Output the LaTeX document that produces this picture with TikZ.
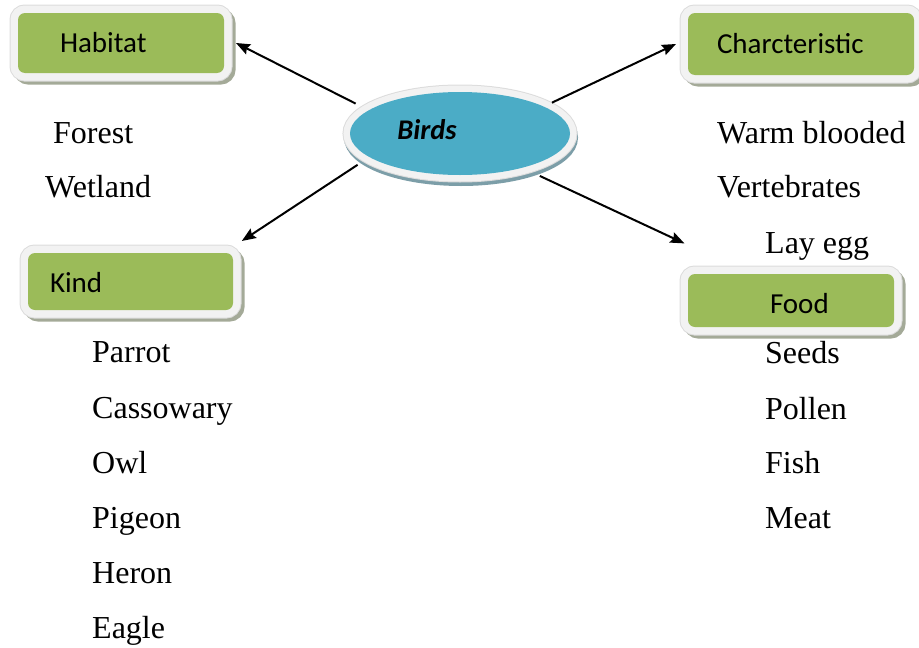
\documentclass[tikz,border=0pt]{standalone}
\usepackage{fontspec}
\setmainfont{Liberation Serif}
\newfontfamily\boxfont{Carlito}
\usepackage{tikz}
\usetikzlibrary{positioning, arrows.meta, shadows, shapes.geometric}
\definecolor{boxgreen}{HTML}{9BBB59}
\definecolor{birdblue}{HTML}{4BACC6}
\definecolor{framegray}{HTML}{F2F2F2}
\definecolor{edgegray}{HTML}{DCDCDC}
\definecolor{greenshadow}{HTML}{A4AA98}
\definecolor{blueshadow}{HTML}{7C9EA8}

\begin{document}
\begin{tikzpicture}[x=1pt, y=-1pt]
	% Define styles
	\tikzset{
		box/.style={rectangle, rounded corners=7pt, fill=boxgreen, inner sep=0pt, outer sep=12pt,
			drop shadow={shadow xshift=3.5pt, shadow yshift=-3.5pt, opacity=1, fill=greenshadow, draw=greenshadow, line width=16pt},
			preaction={draw=edgegray, line width=17pt},
			preaction={draw=framegray, line width=15pt}},
		bird/.style={ellipse, fill=birdblue, minimum width=220pt, minimum height=83pt, inner sep=0pt, outer sep=14pt,
			drop shadow={shadow xshift=1pt, shadow yshift=-4pt, opacity=1, fill=blueshadow, draw=blueshadow, line width=14pt},
			preaction={draw=edgegray, line width=15pt},
			preaction={draw=framegray, line width=13pt}},
		boxtext/.style={inner sep=0pt, outer sep=0pt, font=\boxfont\fontsize{29}{34}\selectfont},
		birdtext/.style={inner sep=0pt, font=\boxfont\bfseries\itshape\fontsize{28.5}{32}\selectfont},
		item/.style={anchor=base west, inner sep=0pt, font=\fontsize{32}{36}\selectfont},
		line/.style={draw, line width=2pt, -{Stealth[length=14pt, width=11pt, inset=2pt]}}
	}
	\useasboundingbox (0,0) rectangle (919,648);
	% Nodes
	\node[bird] (birds) at (460,133.5) {};
	\node[birdtext] (birdst) at (427,130) {Birds};
	
	\node[box, minimum width=206pt, minimum height=60pt] (hab) at (121,43) {};
	\node[box, minimum width=226pt, minimum height=62pt] (char) at (801,44) {};
	\node[box, minimum width=205pt, minimum height=57pt] (kind) at (130.5,281.5) {};
	\node[box, minimum width=206pt, minimum height=53pt] (food) at (791,300.5) {};
	
	\node[boxtext, right=54pt of hab.west] (habt) {Habitat};
	\node[boxtext, right=41pt of char.west] (chart) {Charcteristic};
	\node[boxtext, right=34pt of kind.west, yshift=-1pt] (kindt) {Kind};
	\node[boxtext, right=94pt of food.west, yshift=-3.5pt] (foodt) {Food};
	
	\node[item] (forest) at (53,143) {Forest};
	\node[item] (wetland) at (45,197) {Wetland};
	
	\node[item] (warm) at (717,143) {Warm blooded};
	\node[item] (vert) at (717,197) {Vertebrates};
	\node[item] (layegg) at (765,253) {Lay egg};
	
	\node[item] (parrot) at (92,362) {Parrot};
	\node[item] (cass) at (92,418) {Cassowary};
	\node[item] (owl) at (92,473) {Owl};
	\node[item] (pigeon) at (92,528) {Pigeon};
	\node[item] (heron) at (92,583) {Heron};
	\node[item] (eagle) at (92,638) {Eagle};
	
	\node[item] (seeds) at (765,363) {Seeds};
	\node[item] (pollen) at (765,419) {Pollen};
	\node[item] (fish) at (765,473) {Fish};
	\node[item] (meat) at (765,528) {Meat};
	
	% Arrows
	\draw[line] (birds.164) -- (hab.east);
	\draw[line, shorten <=-7pt] (birds.19) -- (char.west);
	\draw[line] (birds.197) -- (kind.20);
	\draw[line, shorten >=44pt] (birds.-28) -- (food.150);
\end{tikzpicture}
\end{document}
